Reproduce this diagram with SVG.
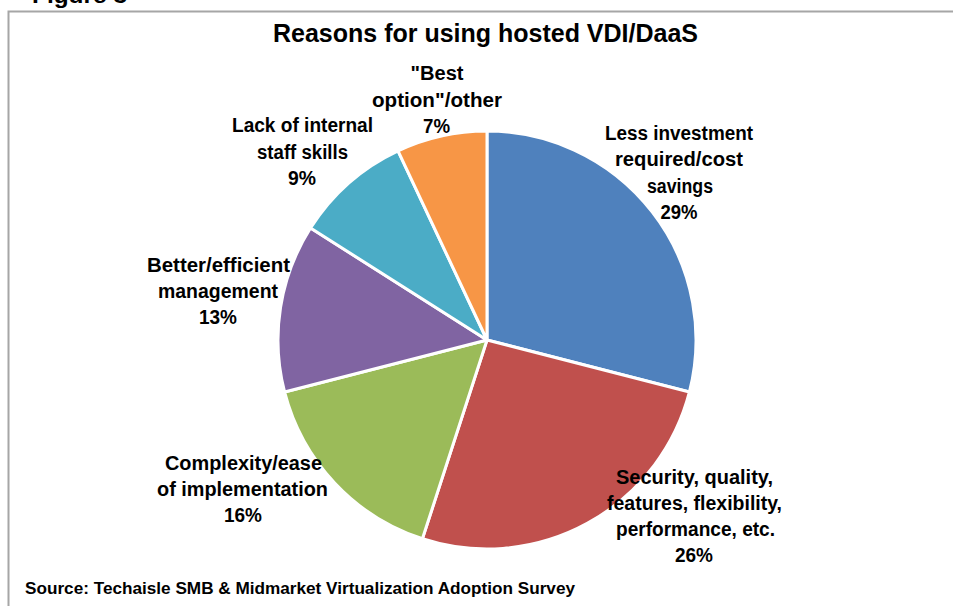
<svg xmlns="http://www.w3.org/2000/svg" width="953" height="606" viewBox="0 0 953 606">
<style>
text{font-family:"Liberation Sans",Arial,sans-serif;font-weight:bold;fill:#000}
.lbl{font-size:19.5px;text-anchor:middle}
.slice{stroke:#fff;stroke-width:3;stroke-linejoin:round}
</style>
<rect width="953" height="606" fill="#fff"/>
<text x="32" y="3" font-size="22" textLength="95" lengthAdjust="spacingAndGlyphs">Figure 3</text>
<path d="M8.5 606 V11.5 H953" fill="none" stroke="#A6A6A6" stroke-width="2"/>
<text x="485.5" y="42" font-size="25" text-anchor="middle" textLength="425" lengthAdjust="spacingAndGlyphs">Reasons for using hosted VDI/DaaS</text>
<g id="slice-less-investment">
<path class="slice" fill="#4F81BD" d="M487 340 L487 131 A209 209 0 0 1 689.43 391.98 Z"/>
<text class="lbl" x="679" y="140" textLength="148" lengthAdjust="spacingAndGlyphs">Less investment</text>
<text class="lbl" x="679" y="166" textLength="128" lengthAdjust="spacingAndGlyphs">required/cost</text>
<text class="lbl" x="680" y="192.5" textLength="66" lengthAdjust="spacingAndGlyphs">savings</text>
<text class="lbl" x="679" y="219" textLength="37" lengthAdjust="spacingAndGlyphs">29%</text>
</g>
<g id="slice-security">
<path class="slice" fill="#C0504D" d="M487 340 L689.43 391.98 A209 209 0 0 1 422.42 538.77 Z"/>
<text class="lbl" x="694.5" y="483.5" textLength="157" lengthAdjust="spacingAndGlyphs">Security, quality,</text>
<text class="lbl" x="694.5" y="510" textLength="175" lengthAdjust="spacingAndGlyphs">features, flexibility,</text>
<text class="lbl" x="695.5" y="535.5" textLength="159" lengthAdjust="spacingAndGlyphs">performance, etc.</text>
<text class="lbl" x="694" y="562" textLength="38" lengthAdjust="spacingAndGlyphs">26%</text>
</g>
<g id="slice-complexity">
<path class="slice" fill="#9BBB59" d="M487 340 L422.42 538.77 A209 209 0 0 1 284.57 391.98 Z"/>
<text class="lbl" x="243.5" y="470" textLength="157" lengthAdjust="spacingAndGlyphs">Complexity/ease</text>
<text class="lbl" x="242.5" y="496" textLength="171" lengthAdjust="spacingAndGlyphs">of implementation</text>
<text class="lbl" x="243" y="522" textLength="38" lengthAdjust="spacingAndGlyphs">16%</text>
</g>
<g id="slice-better-management">
<path class="slice" fill="#8064A2" d="M487 340 L284.57 391.98 A209 209 0 0 1 310.53 228.01 Z"/>
<text class="lbl" x="218.5" y="271.5" textLength="143" lengthAdjust="spacingAndGlyphs">Better/efficient</text>
<text class="lbl" x="218" y="298" textLength="120" lengthAdjust="spacingAndGlyphs">management</text>
<text class="lbl" x="218" y="324" textLength="38" lengthAdjust="spacingAndGlyphs">13%</text>
</g>
<g id="slice-staff-skills">
<path class="slice" fill="#4BACC6" d="M487 340 L310.53 228.01 A209 209 0 0 1 398.01 150.89 Z"/>
<text class="lbl" x="302.5" y="132" textLength="141" lengthAdjust="spacingAndGlyphs">Lack of internal</text>
<text class="lbl" x="302.5" y="158.5" textLength="91" lengthAdjust="spacingAndGlyphs">staff skills</text>
<text class="lbl" x="302" y="185" textLength="28" lengthAdjust="spacingAndGlyphs">9%</text>
</g>
<g id="slice-best-option">
<path class="slice" fill="#F79646" d="M487 340 L398.01 150.89 A209 209 0 0 1 487 131 Z"/>
<text class="lbl" x="437" y="80" textLength="53" lengthAdjust="spacingAndGlyphs">"Best</text>
<text class="lbl" x="437" y="106.5" textLength="130" lengthAdjust="spacingAndGlyphs">option"/other</text>
<text class="lbl" x="436.5" y="133" textLength="27" lengthAdjust="spacingAndGlyphs">7%</text>
</g>
<g id="connectors"></g>
<text x="25" y="594" font-size="17" textLength="550" lengthAdjust="spacingAndGlyphs">Source: Techaisle SMB &amp; Midmarket Virtualization Adoption Survey</text>
</svg>
